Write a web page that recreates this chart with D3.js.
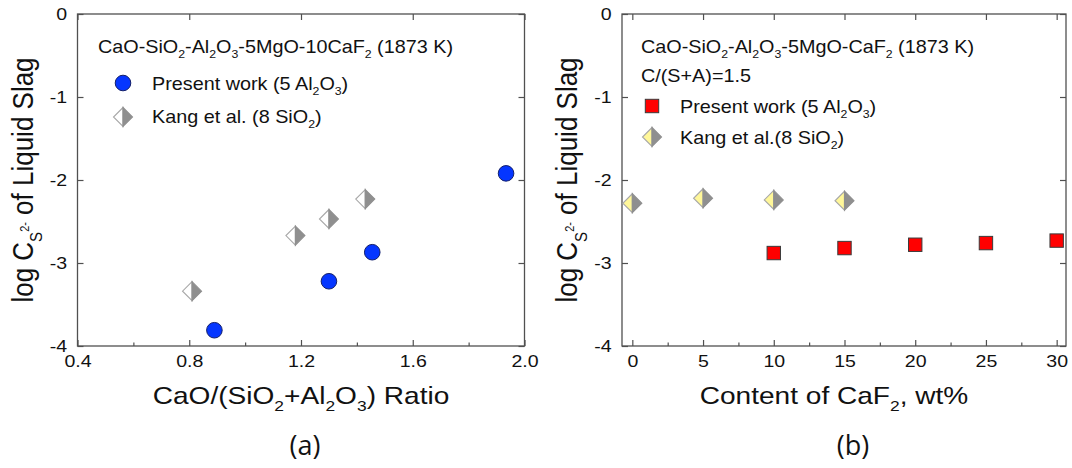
<!DOCTYPE html>
<html>
<head>
  <meta charset="utf-8">
  <title>Sulfide capacity of CaO-SiO2-Al2O3-MgO-CaF2 slag</title>
  <script src="https://cdn.jsdelivr.net/npm/d3@7"></script>
  <style>
    body { margin: 0; background: #fff; }
    #chart text { font-family: "Liberation Sans", Arial, sans-serif; fill: #111; }
    #chart .cap { font-family: "Open Sans", sans-serif; }
  </style>
</head>
<body>
<div id="chart"></div>
<script>
// ---- data ----
// (a) log Cs vs basicity ratio
var ratioPresent = [0.89, 1.30, 1.455, 1.934];
var logCsPresentA = [-3.81, -3.22, -2.87, -1.92];
var ratioKang = [0.81, 1.18, 1.30, 1.43];
var logCsKangA = [-3.34, -2.67, -2.47, -2.23];

// (b) log Cs vs CaF2 content
var cafPresent = [10, 15, 20, 25, 30];
var logCsPresentB = [-2.88, -2.82, -2.78, -2.76, -2.73];
var cafKang = [0, 5, 10, 15];
var logCsKangB = [-2.28, -2.22, -2.24, -2.25];

var yTicks = [0, -1, -2, -3, -4];
var yTickLabels = ["0", "-1", "-2", "-3", "-4"];
var xTicksA = [0.4, 0.8, 1.2, 1.6, 2.0];
var xTickLabelsA = ["0.4", "0.8", "1.2", "1.6", "2.0"];
var xMinorA = [0.6, 1.0, 1.4, 1.8];
var xTicksB = [0, 5, 10, 15, 20, 25, 30];
var xTickLabelsB = ["0", "5", "10", "15", "20", "25", "30"];
var xMinorB = [2.5, 7.5, 12.5, 17.5, 22.5, 27.5];

var W = 1072, H = 468;
var SX = 1.15; // text in the figure is a bit wide

var svg = d3.select("#chart").append("svg")
  .attr("width", W)
  .attr("height", H);

// text with sub/superscripts; parts = [[string, kind]]
function rich(g, parts, size, anchor) {
  var kinds = {
    n:   { dy: 0,     fs: 1 },
    sub: { dy: 0.3,   fs: 0.62 },
    ss:  { dy: 0.34,  fs: 0.58 },
    sp:  { dy: -0.12, fs: 0.42 }
  };
  var t = g.append("text")
    .attr("font-size", size)
    .attr("text-anchor", anchor || "start");
  var cur = 0;
  parts.forEach(function(p) {
    var k = kinds[p[1]];
    t.append("tspan")
      .attr("dy", ((k.dy - cur) * size).toFixed(2))
      .attr("font-size", (k.fs * size).toFixed(2))
      .text(p[0]);
    cur = k.dy;
  });
  return t;
}

function label(x, y, parts, size, anchor, sx, rot) {
  var g = svg.append("g")
    .attr("transform", "translate(" + x + "," + y + ")" + (rot ? " rotate(-90) scale(1," + sx + ")" : " scale(" + sx + ",1)"));
  return rich(g, parts, size, anchor);
}

function diamond(g, cx, cy, leftFill) {
  var w = 9.5, h = 9.5;
  g.append("path")
    .attr("d", "M" + cx + "," + (cy - h) + "L" + (cx - w) + "," + cy + "L" + cx + "," + (cy + h) + "Z")
    .attr("fill", leftFill)
    .attr("stroke", "#a8a8a8")
    .attr("stroke-width", 1.1);
  g.append("path")
    .attr("d", "M" + cx + "," + (cy - h) + "L" + (cx + w) + "," + cy + "L" + cx + "," + (cy + h) + "Z")
    .attr("fill", "#8f8f8f")
    .attr("stroke", "#8f8f8f")
    .attr("stroke-width", 1.1);
}

function panel(p) {
  var x = d3.scaleLinear().domain(p.xDomain).range([p.left, p.right]);
  var y = d3.scaleLinear().domain([-4, 0]).range([346, 14]);
  var g = svg.append("g");

  // bottom axis with labels
  var bottom = g.append("g")
    .attr("transform", "translate(0,346)")
    .call(d3.axisBottom(x).tickValues(p.xTicks).tickSize(-6).tickSizeOuter(0).tickPadding(9)
      .tickFormat(function(d, i) { return p.xTickLabels[i]; }));
  bottom.selectAll("text").attr("font-size", 17).attr("transform", "scale(" + SX + ",1)");
  g.append("g")
    .attr("transform", "translate(0,346)")
    .call(d3.axisBottom(x).tickValues(p.xMinor).tickSize(-3.5).tickSizeOuter(0).tickFormat(""));
  g.append("g")
    .attr("transform", "translate(0,14)")
    .call(d3.axisTop(x).tickValues(p.xTicks).tickSize(-6).tickSizeOuter(0).tickFormat(""));

  var left = g.append("g")
    .attr("transform", "translate(" + p.left + ",0)")
    .call(d3.axisLeft(y).tickValues(yTicks).tickSize(-6).tickSizeOuter(0).tickPadding(9)
      .tickFormat(function(d, i) { return yTickLabels[i]; }));
  left.selectAll("text").attr("font-size", 17).attr("transform", "scale(" + SX + ",1)");
  g.append("g")
    .attr("transform", "translate(" + p.right + ",0)")
    .call(d3.axisRight(y).tickValues(yTicks).tickSize(-6).tickSizeOuter(0).tickFormat(""));

  g.selectAll(".domain").attr("stroke", "none");
  g.selectAll(".tick line").attr("stroke", "#505050").attr("stroke-width", 1.2);
  g.selectAll(".tick text").attr("fill", "#111").attr("font-family", null);

  g.append("rect")
    .attr("x", p.left).attr("y", 14)
    .attr("width", p.right - p.left).attr("height", 332)
    .attr("fill", "none").attr("stroke", "#505050").attr("stroke-width", 1.3);

  // axis titles
  label(p.left - 45, 180, [["log C", "n"], ["S", "ss"], ["2-", "sp"], [" of Liquid Slag", "n"]], 26, "middle", 1.12, true);
  label(p.xLabelX, 404, p.xLabel, 24, "middle", 1.17);
  var cap = svg.append("text").attr("class", "cap")
    .attr("x", p.capX).attr("y", 455)
    .attr("font-size", 27).attr("text-anchor", "middle")
    .text(p.cap);

  // notes & legend
  p.notes.forEach(function(n) { label(n.x, n.y, n.parts, 18, "start", 1.1); });
  return { x: x, y: y, g: g };
}

// ---------- (a) ----------
var a = panel({
  xDomain: [0.4, 2.0], left: 77.5, right: 524.5,
  xTicks: xTicksA, xTickLabels: xTickLabelsA, xMinor: xMinorA,
  xLabelX: 301,
  xLabel: [["CaO/(SiO", "n"], ["2", "sub"], ["+Al", "n"], ["2", "sub"], ["O", "n"], ["3", "sub"], [") Ratio", "n"]],
  capX: 305, cap: "(a)",
  notes: [
    { x: 98, y: 53, parts: [["CaO-SiO", "n"], ["2", "sub"], ["-Al", "n"], ["2", "sub"], ["O", "n"], ["3", "sub"], ["-5MgO-10CaF", "n"], ["2", "sub"], [" (1873 K)", "n"]] },
    { x: 152, y: 90, parts: [["Present work (5 Al", "n"], ["2", "sub"], ["O", "n"], ["3", "sub"], [")", "n"]] },
    { x: 152, y: 123, parts: [["Kang et al. (8 SiO", "n"], ["2", "sub"], [")", "n"]] }
  ]
});

diamond(a.g, 123, 117, "#ffffff");
ratioKang.forEach(function(d, i) { diamond(a.g, a.x(d), a.y(logCsKangA[i]), "#ffffff"); });

a.g.append("circle").attr("cx", 123).attr("cy", 83).attr("r", 7.8)
  .attr("fill", "#0536ff").attr("stroke", "#14206b").attr("stroke-width", 1);
a.g.selectAll(".pt").data(ratioPresent).enter().append("circle")
  .attr("cx", function(d) { return a.x(d); })
  .attr("cy", function(d, i) { return a.y(logCsPresentA[i]); })
  .attr("r", 7.8)
  .attr("fill", "#0536ff").attr("stroke", "#14206b").attr("stroke-width", 1);

// ---------- (b) ----------
var b = panel({
  xDomain: [-0.73, 30.66], left: 622, right: 1066,
  xTicks: xTicksB, xTickLabels: xTickLabelsB, xMinor: xMinorB,
  xLabelX: 834,
  xLabel: [["Content of CaF", "n"], ["2", "sub"], [", wt%", "n"]],
  capX: 853, cap: "(b)",
  notes: [
    { x: 641, y: 53, parts: [["CaO-SiO", "n"], ["2", "sub"], ["-Al", "n"], ["2", "sub"], ["O", "n"], ["3", "sub"], ["-5MgO-CaF", "n"], ["2", "sub"], [" (1873 K)", "n"]] },
    { x: 641, y: 82, parts: [["C/(S+A)=1.5", "n"]] },
    { x: 680, y: 113, parts: [["Present work (5 Al", "n"], ["2", "sub"], ["O", "n"], ["3", "sub"], [")", "n"]] },
    { x: 680, y: 144, parts: [["Kang et al.(8 SiO", "n"], ["2", "sub"], [")", "n"]] }
  ]
});

var sq = 13.4;
b.g.append("rect").attr("x", 652 - sq / 2).attr("y", 106 - sq / 2).attr("width", sq).attr("height", sq)
  .attr("fill", "#ff0000").attr("stroke", "#3a3a3a").attr("stroke-width", 1);
b.g.selectAll(".sq").data(cafPresent).enter().append("rect")
  .attr("x", function(d) { return b.x(d) - sq / 2; })
  .attr("y", function(d, i) { return b.y(logCsPresentB[i]) - sq / 2; })
  .attr("width", sq).attr("height", sq)
  .attr("fill", "#ff0000").attr("stroke", "#3a3a3a").attr("stroke-width", 1);

diamond(b.g, 652, 137, "#fff799");
cafKang.forEach(function(d, i) { diamond(b.g, b.x(d), b.y(logCsKangB[i]), "#fff799"); });
</script>
</body>
</html>
